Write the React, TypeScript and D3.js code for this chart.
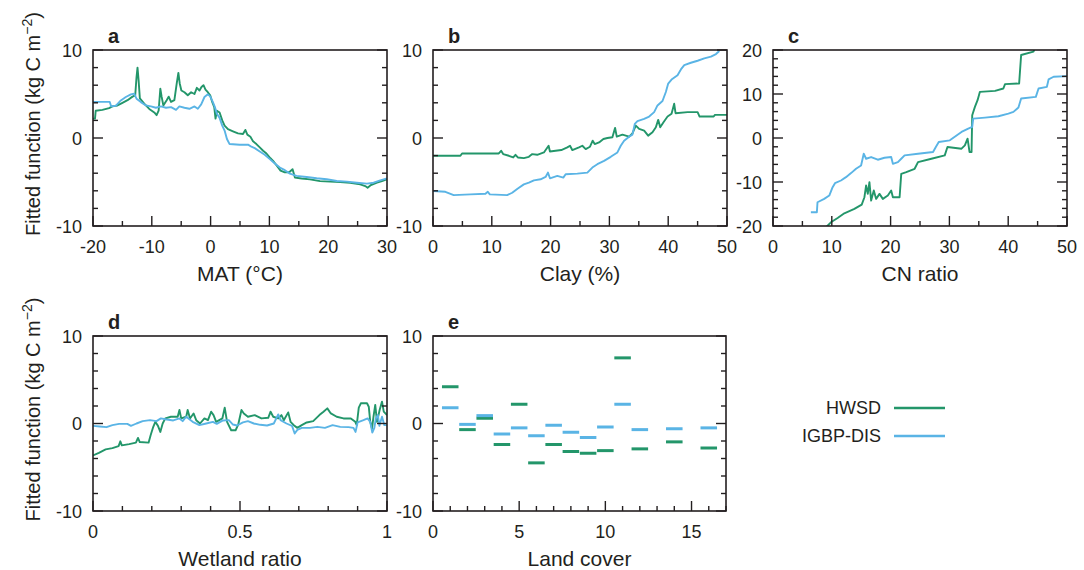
import React from 'react';
import * as d3 from 'd3';

type Pt = [number, number];

// ---------- data ----------
const matHWSD: Pt[] = [
  [-20, 2.2], [-19.66, 2.2], [-19.54, 3.1], [-18.4, 3.2], [-17.27, 3.4], [-16.7, 3.6], [-15.84, 3.7],
  [-14.99, 4.0], [-14.13, 4.3], [-13.28, 4.7], [-12.82, 4.85], [-12.6, 6.9], [-12.43, 8.0], [-12.25, 6.6],
  [-12.03, 4.5], [-11.29, 3.9], [-10.43, 3.3], [-9.58, 2.9], [-9.18, 2.6], [-8.84, 3.1], [-8.55, 5.6],
  [-8.33, 4.7], [-8.04, 3.7], [-7.47, 4.3], [-7.13, 4.7], [-6.73, 4.1], [-6.16, 4.3], [-5.76, 6.2],
  [-5.48, 7.4], [-5.25, 6.2], [-4.97, 5.4], [-4.45, 5.2], [-3.88, 4.85], [-3.31, 5.2], [-2.74, 5.0],
  [-2.34, 5.7], [-1.89, 5.4], [-1.55, 5.8], [-1.21, 6.0], [-0.87, 5.5], [-0.47, 5.2], [-0.07, 4.85],
  [0.27, 4.1], [0.62, 3.5], [0.84, 2.2], [1.07, 3.1], [1.53, 2.9], [1.98, 2.0], [2.38, 1.4], [2.95, 1.0],
  [3.8, 0.76], [4.66, 0.53], [5.51, 0.46], [5.91, 0.92], [6.25, 0.38], [6.77, 0.15], [7.22, -0.38],
  [7.79, -0.69], [8.36, -1.07], [8.93, -1.45], [9.5, -1.76], [10.18, -2.3], [10.75, -2.7], [11.32, -3.2],
  [11.89, -3.7], [12.63, -3.9], [13.37, -3.9], [13.94, -3.55], [14.34, -4.5], [15.48, -4.6], [16.9, -4.7],
  [18.61, -4.9], [20.32, -4.96], [22.03, -5.0], [23.74, -5.08], [25.44, -5.27], [26.3, -5.46], [26.7, -5.65],
  [27.27, -5.34], [28.3, -5.08], [29.15, -4.89], [30, -4.69],
];
const matIGBP: Pt[] = [
  [-20, 4.1], [-17.15, 4.1], [-16.92, 3.6], [-16.13, 3.66], [-15.27, 4.27], [-14.42, 4.66], [-13.56, 4.96],
  [-13.0, 5.04], [-12.6, 4.47], [-11.86, 4.08], [-11.0, 3.7], [-10.15, 3.59], [-9.3, 3.44], [-8.44, 3.59],
  [-7.59, 3.44], [-6.73, 3.51], [-5.88, 3.2], [-5.31, 3.59], [-4.45, 3.44], [-3.6, 3.32], [-2.74, 3.59],
  [-2.17, 3.32], [-1.6, 3.82], [-1.04, 4.66], [-0.47, 4.96], [-0.07, 4.73], [0.39, 4.08], [0.73, 3.51],
  [1.07, 2.75], [1.53, 2.29], [1.98, 1.41], [2.38, 0.84], [2.78, -0.11], [3.23, -0.69], [4.94, -0.76],
  [6.37, -0.76], [6.94, -0.99], [7.5, -1.15], [8.36, -1.53], [9.21, -1.91], [10.07, -2.4], [10.92, -2.9],
  [11.78, -3.36], [12.63, -3.66], [13.49, -4.05], [14.62, -4.31], [16.33, -4.43], [18.04, -4.58],
  [19.75, -4.69], [21.46, -4.89], [23.17, -4.96], [24.87, -5.08], [26.58, -5.19], [27.72, -5.08],
  [28.86, -4.81], [30, -4.58],
];

const clayHWSD: Pt[] = [
  [0, -2.02], [4.66, -2.02], [4.94, -1.76], [9.77, -1.76], [11.19, -1.76], [11.59, -1.45], [11.93, -1.83],
  [12.9, -2.02], [13.64, -2.21], [14.03, -1.91], [14.43, -2.21], [15.45, -2.29], [16.3, -2.14], [16.88, -1.83],
  [17.73, -1.91], [18.86, -1.64], [19.66, -0.88], [19.89, -1.53], [20.85, -1.45], [21.82, -1.37], [22.84, -1.07],
  [23.3, -0.88], [23.69, -1.37], [24.83, -1.07], [25.4, -0.88], [25.97, -1.26], [26.7, -0.99], [27.16, -0.31],
  [27.5, -0.69], [28.24, -0.5], [28.98, -0.11], [29.66, 0], [30.51, 0.08], [30.97, 1.15], [31.25, 0.15],
  [32.22, 0.38], [33.35, 0.15], [33.92, 0.53], [34.49, 1.41], [35.06, 1.03], [35.91, 0.84], [36.59, 0.27],
  [37.33, 0.65], [37.9, 1.22], [38.3, 2.06], [38.64, 1.22], [39.2, 1.79], [39.89, 2.44], [40.57, 2.75],
  [41.02, 3.89], [41.25, 2.82], [43.3, 2.94], [45.0, 2.94], [45.34, 2.44], [47.73, 2.44], [47.95, 2.63],
  [50, 2.63],
];
const clayIGBP: Pt[] = [
  [0, -6.03], [2.1, -6.11], [3.52, -6.49], [6.36, -6.41], [8.92, -6.34], [9.32, -6.11], [9.66, -6.41],
  [12.61, -6.49], [13.47, -6.22], [14.43, -5.73], [15.45, -5.27], [16.31, -5.08], [17.16, -4.81], [18.3, -4.69],
  [19.15, -4.43], [19.55, -3.93], [19.89, -4.58], [21.14, -4.31], [22.16, -4.5], [22.56, -4.12], [24.55, -4.05],
  [26.25, -3.93], [27.1, -3.36], [27.95, -2.98], [29.09, -2.6], [30.23, -2.14], [31.36, -1.64], [31.93, -0.88],
  [32.5, -0.31], [33.35, 0.15], [33.92, 0.38], [34.32, 1.6], [34.77, 1.91], [35.91, 2.18], [36.76, 2.44],
  [37.61, 2.94], [38.18, 3.7], [39.03, 4.2], [39.6, 5.23], [40.0, 6.18], [40.57, 6.64], [41.59, 7.14],
  [42.16, 7.79], [42.73, 8.28], [43.86, 8.55], [45.0, 8.78], [46.14, 9.05], [47.27, 9.24], [48.13, 9.54],
  [48.69, 9.89],
];

const cnHWSD: Pt[] = [
  [9.0, -20.3], [9.85, -19.16], [10.99, -18.17], [12.13, -17.11], [13.84, -16.12], [15.09, -15.13],
  [15.55, -13.46], [15.83, -10.8], [16.12, -12.7], [16.4, -10.04], [16.69, -14.22], [17.14, -11.94],
  [17.54, -13.84], [18.11, -12.7], [18.68, -13.84], [19.53, -13.08], [20.1, -11.94], [20.39, -13.46],
  [21.53, -13.46], [21.81, -8.14], [22.67, -7.76], [24.09, -7.0], [24.66, -5.48], [26.94, -4.71],
  [29.21, -3.95], [29.67, -2.05], [32.06, -2.43], [32.63, -1.67], [33.09, -0.15], [33.43, -3.19],
  [33.77, -3.19], [33.88, 5.17], [34.34, 7.07], [34.79, 8.59], [35.19, 10.49], [37.76, 10.72],
  [39.18, 11.25], [39.46, 12.24], [41.86, 12.4], [42.2, 18.86], [44.3, 19.62], [44.59, 20.6],
];
const cnIGBP: Pt[] = [
  [6.44, -16.88], [7.46, -16.88], [7.57, -14.6], [8.71, -13.84], [9.57, -13.08], [10.14, -11.18],
  [10.54, -10.27], [11.56, -9.66], [12.41, -8.9], [13.27, -7.98], [14.12, -7.0], [14.98, -6.24],
  [15.43, -3.57], [15.83, -4.71], [16.69, -4.33], [17.82, -4.94], [18.96, -4.49], [20.1, -4.33],
  [20.39, -5.86], [21.24, -5.48], [21.81, -4.71], [22.38, -3.95], [24.66, -3.57], [27.22, -3.19],
  [27.62, -2.21], [28.19, -0.91], [30.07, -0.53], [32.06, 1.37], [33.2, 2.13], [33.88, 2.51],
  [34.05, 4.41], [36.05, 4.64], [38.33, 4.94], [40.03, 5.55], [40.89, 5.93], [41.74, 6.92], [42.2, 8.97],
  [44.7, 9.35], [45.16, 11.25], [46.58, 11.63], [46.87, 13.31], [47.72, 13.92], [50, 14.07],
];

const wetHWSD: Pt[] = [
  [0, -3.65], [0.02, -3.35], [0.043, -2.96], [0.066, -2.81], [0.087, -2.58], [0.093, -2.04], [0.098, -2.5],
  [0.123, -2.35], [0.146, -2.19], [0.153, -1.65], [0.159, -2.12], [0.189, -2.19], [0.196, -1.35],
  [0.205, -0.38], [0.212, 0.19], [0.221, -0.27], [0.229, -0.96], [0.237, 0], [0.246, 0.58], [0.265, 0.77],
  [0.288, 0.77], [0.294, 1.54], [0.3, 0.58], [0.317, 0.77], [0.322, 1.54], [0.33, 0.58], [0.342, 1.15],
  [0.351, 0.38], [0.364, 0], [0.379, 0.58], [0.391, 0.38], [0.402, 1.35], [0.41, 0.96], [0.419, 0.19],
  [0.44, 0.58], [0.448, 1.81], [0.456, 0.19], [0.47, -0.77], [0.485, -0.77], [0.494, -0.12], [0.505, 1.54],
  [0.513, 1.15], [0.527, 0.77], [0.55, 0.96], [0.573, 0.58], [0.596, 0.65], [0.604, 1.35], [0.613, 0.77],
  [0.63, 0.58], [0.641, 0.96], [0.649, 0.38], [0.664, 1.27], [0.672, 0.19], [0.683, -0.19], [0.695, -0.5],
  [0.71, -0.19], [0.727, 0.12], [0.749, 0.27], [0.77, 0.96], [0.784, 1.35], [0.797, 1.73], [0.809, 1.15],
  [0.829, 0.77], [0.852, 0.58], [0.877, 0.58], [0.892, 0.19], [0.897, -0.19], [0.904, 1.81], [0.911, 2.31],
  [0.932, 2.31], [0.938, 1.92], [0.943, 0.19], [0.949, -0.58], [0.954, 0.77], [0.96, 2.12], [0.966, 0.19],
  [0.975, 1.54], [0.983, 2.5], [0.989, 1.35], [1.0, 0.96],
];
const wetIGBP: Pt[] = [
  [0, -0.27], [0.023, -0.35], [0.046, -0.42], [0.066, -0.19], [0.089, -0.04], [0.117, -0.04], [0.129, -0.27],
  [0.148, 0], [0.169, 0.27], [0.194, 0.38], [0.216, 0.27], [0.231, 0.58], [0.251, 0.46], [0.273, 0.35],
  [0.294, 0.58], [0.305, 0.27], [0.317, 0.77], [0.339, 0.19], [0.362, -0.19], [0.385, 0], [0.408, 0.19],
  [0.421, -0.04], [0.442, 0.35], [0.462, 0.38], [0.476, -0.12], [0.49, -0.23], [0.51, 0.12], [0.527, 0.27],
  [0.547, 0], [0.569, -0.15], [0.592, -0.23], [0.615, 0], [0.63, 1.04], [0.638, 0.38], [0.658, 0],
  [0.677, -0.27], [0.686, -1.15], [0.695, -0.73], [0.71, -0.5], [0.738, -0.5], [0.763, -0.38], [0.789, -0.5],
  [0.815, -0.19], [0.841, -0.38], [0.869, -0.42], [0.886, -0.5], [0.893, -0.96], [0.9, 0.12], [0.92, 0.38],
  [0.934, 0.58], [0.943, 0.19], [0.95, -1.04], [0.957, -0.5], [0.962, 0.58], [0.969, 0.96], [0.974, -0.27],
  [0.983, 0.77], [0.991, -0.19], [1.0, -0.19],
];

const landClasses = [1, 2, 3, 4, 5, 6, 7, 8, 9, 10, 11, 12, 14, 16];
const landHWSD = [4.2, -0.7, 0.6, -2.4, 2.2, -4.5, -2.4, -3.2, -3.4, -3.1, 7.5, -2.9, -2.1, -2.8];
const landIGBP = [1.8, -0.1, 0.9, -1.2, -0.5, -1.4, -0.2, -1.0, -1.6, -0.4, 2.2, -0.7, -0.6, -0.5];

const seriesNames = ['HWSD', 'IGBP-DIS'];
const COLORS = ['#23966a', '#5ab4e5'];

const INK = '#231f20';
const FONT = '"Liberation Sans", Arial, Helvetica, sans-serif';

type PanelSpec = {
  id: string;
  left: number; top: number; w: number; h: number;
  xDomain: [number, number]; yDomain: [number, number];
  xMajor: number[]; xMinorStep: number;
  yMajor: number[]; yMinorStep: number;
  xTitle: string;
  lines?: Pt[][];
  bars?: { classes: number[]; values: number[][] };
  yTitle?: boolean;
};

const panels: PanelSpec[] = [
  { id: 'a', left: 93, top: 50, w: 294, h: 176, xDomain: [-20, 30], yDomain: [-10, 10],
    xMajor: [-20, -10, 0, 10, 20, 30], xMinorStep: 5, yMajor: [-10, 0, 10], yMinorStep: 2,
    xTitle: 'MAT (°C)', lines: [matHWSD, matIGBP], yTitle: true },
  { id: 'b', left: 433, top: 50, w: 294, h: 176, xDomain: [0, 50], yDomain: [-10, 10],
    xMajor: [0, 10, 20, 30, 40, 50], xMinorStep: 5, yMajor: [-10, 0, 10], yMinorStep: 2,
    xTitle: 'Clay (%)', lines: [clayHWSD, clayIGBP] },
  { id: 'c', left: 773, top: 50, w: 294, h: 176, xDomain: [0, 50], yDomain: [-20, 20],
    xMajor: [0, 10, 20, 30, 40, 50], xMinorStep: 5, yMajor: [-20, -10, 0, 10, 20], yMinorStep: 2,
    xTitle: 'CN ratio', lines: [cnHWSD, cnIGBP] },
  { id: 'd', left: 93, top: 336, w: 294, h: 175, xDomain: [0, 1], yDomain: [-10, 10],
    xMajor: [0, 0.5, 1], xMinorStep: 0.1, yMajor: [-10, 0, 10], yMinorStep: 2,
    xTitle: 'Wetland ratio', lines: [wetHWSD, wetIGBP], yTitle: true },
  { id: 'e', left: 433, top: 336, w: 293, h: 175, xDomain: [0, 17], yDomain: [-10, 10],
    xMajor: [0, 5, 10, 15], xMinorStep: 1, yMajor: [-10, 0, 10], yMinorStep: 2,
    xTitle: 'Land cover', bars: { classes: landClasses, values: [landHWSD, landIGBP] } },
];

function Panel({ p }: { p: PanelSpec }) {
  const x = d3.scaleLinear().domain(p.xDomain).range([0, p.w]);
  const y = d3.scaleLinear().domain(p.yDomain).range([p.h, 0]);
  const line = d3.line<Pt>().x((d) => x(d[0])).y((d) => y(d[1]));
  const eps = 1e-9;
  const xMinor = d3.range(p.xDomain[0], p.xDomain[1] + eps, p.xMinorStep)
    .filter((v) => !p.xMajor.some((m) => Math.abs(m - v) < 1e-6));
  const yMinor = d3.range(p.yDomain[0], p.yDomain[1] + eps, p.yMinorStep)
    .filter((v) => !p.yMajor.some((m) => Math.abs(m - v) < 1e-6));
  const MAJ = 10, MIN = 5;
  const clipId = `clip-${p.id}`;
  return (
    <g transform={`translate(${p.left},${p.top})`}>
      <defs>
        <clipPath id={clipId}><rect x={0} y={0} width={p.w} height={p.h} /></clipPath>
      </defs>
      <g clipPath={`url(#${clipId})`}>
        {p.lines && p.lines.map((ser, i) => (
          <path key={i} d={line(ser) || ''} fill="none" stroke={COLORS[i]} strokeWidth={1.9}
            strokeLinejoin="round" />
        ))}
        {p.bars && p.bars.values.map((vals, i) => (
          <g key={i}>
            {p.bars!.classes.map((c, j) => (
              <line key={j} x1={x(c - 0.48)} x2={x(c + 0.48)} y1={y(vals[j])} y2={y(vals[j])}
                stroke={COLORS[i]} strokeWidth={3} />
            ))}
          </g>
        ))}
      </g>
      {/* x ticks */}
      {xMinor.map((v, i) => (
        <line key={`xm${i}`} x1={x(v)} x2={x(v)} y1={p.h} y2={p.h - MIN} stroke={INK} strokeWidth={1.4} />
      ))}
      {p.xMajor.map((v, i) => (
        <line key={`xM${i}`} x1={x(v)} x2={x(v)} y1={p.h} y2={p.h - MAJ} stroke={INK} strokeWidth={1.4} />
      ))}
      {/* y ticks left & right */}
      {yMinor.map((v, i) => (
        <g key={`ym${i}`}>
          <line x1={0} x2={MIN} y1={y(v)} y2={y(v)} stroke={INK} strokeWidth={1.4} />
          <line x1={p.w} x2={p.w - MIN} y1={y(v)} y2={y(v)} stroke={INK} strokeWidth={1.4} />
        </g>
      ))}
      {p.yMajor.map((v, i) => (
        <g key={`yM${i}`}>
          <line x1={0} x2={MAJ} y1={y(v)} y2={y(v)} stroke={INK} strokeWidth={1.4} />
          <line x1={p.w} x2={p.w - MAJ} y1={y(v)} y2={y(v)} stroke={INK} strokeWidth={1.4} />
        </g>
      ))}
      <rect x={0} y={0} width={p.w} height={p.h} fill="none" stroke={INK} strokeWidth={1.6} />
      {/* tick labels */}
      {p.xMajor.map((v, i) => (
        <text key={`xl${i}`} x={x(v)} y={p.h + 27} textAnchor="middle" fontSize={18} fill={INK}
          fontFamily={FONT}>{String(v)}</text>
      ))}
      {p.yMajor.map((v, i) => (
        <text key={`yl${i}`} x={-11} y={y(v) + 6.5} textAnchor="end" fontSize={18} fill={INK}
          fontFamily={FONT}>{String(v)}</text>
      ))}
      <text x={p.w / 2} y={p.h + 55} textAnchor="middle" fontSize={21} fill={INK} fontFamily={FONT}>
        {p.xTitle}
      </text>
      <text x={15} y={-7} fontSize={20} fontWeight="bold" fill={INK} fontFamily={FONT}>{p.id}</text>
      {p.yTitle && (
        <text transform={`translate(${40 - p.left},${p.h / 2 - 14}) rotate(-90)`} textAnchor="middle"
          fontSize={20} fill={INK} fontFamily={FONT}>
          Fitted function (kg C m<tspan dy={-8} fontSize={14}>−2</tspan><tspan dy={8}>)</tspan>
        </text>
      )}
    </g>
  );
}

export default function App() {
  return (
    <svg width={1084} height={570} style={{ position: 'absolute', left: 0, top: 0, background: '#fff' }}>
      <rect width={1084} height={570} fill="#fff" />
      {panels.map((p) => <Panel key={p.id} p={p} />)}
      <g>
        {seriesNames.map((name, i) => (
          <g key={name}>
            <text x={881} y={414 + i * 28} textAnchor="end" fontSize={18} fill={INK} fontFamily={FONT}>{name}</text>
            <line x1={894} x2={945} y1={408 + i * 28} y2={408 + i * 28} stroke={COLORS[i]} strokeWidth={2.6} />
          </g>
        ))}
      </g>
    </svg>
  );
}
